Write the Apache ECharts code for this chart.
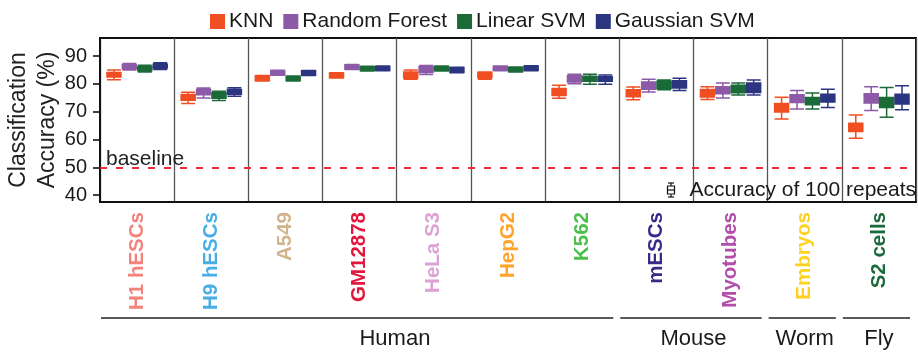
<!DOCTYPE html>
<html><head><meta charset="utf-8">
<script src="https://cdn.jsdelivr.net/npm/echarts@6/dist/echarts.min.js"></script>
<style>html,body{margin:0;padding:0;background:#fff}#c{width:918px;height:355px}</style>
</head><body><div id="c"></div>
<script>
// ---- data ----
const categories = ['H1 hESCs','H9 hESCs','A549','GM12878','HeLa S3','HepG2','K562','mESCs','Myotubes','Embryos','S2 cells'];
const categoryColors = ['#f2827a','#4aaee6','#d2b48c','#e2173d','#dca2d6','#ffa42a','#4dbf4d','#372b8a','#b04ea9','#ffd21f','#1b6a3a'];
const seriesNames = ['KNN','Random Forest','Linear SVM','Gaussian SVM'];
const seriesColors = ['#f04e23','#8c5aa6','#1b6b38','#2b3580'];
// [min, Q1, median, Q3, max]
const knn = [
  [81.5,82.5,83.2,84.1,85.0],[72.9,74.1,75.1,76.2,77.0],[81.0,81.1,82.0,82.9,83.0],
  [82.1,82.2,83.0,83.9,84.0],[81.7,82.1,83.3,84.3,85.0],[81.7,82.2,83.2,84.1,84.3],
  [74.8,75.8,77.1,78.3,79.5],[74.3,75.4,76.7,77.9,78.9],[74.4,75.3,76.7,78.0,79.0],
  [67.4,69.9,71.2,72.9,75.2],[60.4,62.9,64.4,65.8,68.8]
];
const randomForest = [
  [85.0,85.4,86.1,86.9,87.3],[74.9,76.1,77.0,78.0,78.5],[83.1,83.2,84.0,84.8,84.9],
  [85.2,85.3,86.1,86.9,87.0],[83.4,84.1,85.2,86.2,86.6],[84.7,84.8,85.5,86.3,86.4],
  [80.0,80.7,81.8,82.9,83.5],[77.1,78.1,79.4,80.7,81.7],[74.9,76.4,77.6,79.0,80.3],
  [71.0,73.3,74.6,76.1,77.6],[70.4,73.1,74.8,76.4,79.0]
];
const linearSVM = [
  [84.3,84.7,85.4,86.2,86.7],[74.0,74.8,75.8,76.8,77.3],[81.0,81.1,81.9,82.7,82.8],
  [84.6,84.7,85.4,86.2,86.3],[84.6,84.7,85.5,86.3,86.4],[84.3,84.4,85.2,86.0,86.1],
  [79.9,80.9,81.7,82.7,83.5],[77.9,78.3,79.6,80.9,81.4],[76.0,76.8,78.1,79.5,80.3],
  [71.0,72.5,73.7,75.1,76.7],[68.0,71.5,73.3,75.1,78.7]
];
const gaussianSVM = [
  [85.2,85.7,86.4,87.1,87.6],[75.5,76.3,77.1,78.0,78.6],[83.0,83.1,83.9,84.7,84.8],
  [84.7,84.8,85.5,86.3,86.4],[84.0,84.1,85.0,85.9,86.0],[84.7,84.8,85.6,86.4,86.5],
  [79.9,80.9,81.7,82.6,83.2],[77.6,78.5,79.9,81.1,82.0],[76.0,76.9,78.6,80.3,81.4],
  [71.5,73.5,74.9,76.3,78.1],[70.7,72.8,74.6,76.3,79.3]
];
const groups = ['Human','Mouse','Worm','Fly'];
const groupSpans = [[0,6],[7,8],[9,9],[10,10]];
const groupLabelFrac = [0.568,0.5,0.5,0.5];
const yTicks = [40,50,60,70,80,90];
const baseline = 50;

const seriesData = [knn, randomForest, linearSVM, gaussianSVM];
const chart = echarts.init(document.getElementById('c'), null, {renderer:'canvas'});
const FONT = 'Liberation Sans, Arial, Helvetica, sans-serif';

const series = seriesNames.map((n,i)=>({
  name:n, type:'boxplot', data:seriesData[i], boxWidth:[14,14],
  itemStyle:{color:seriesColors[i], borderColor:seriesColors[i], borderWidth:1.5},
  emphasis:{disabled:true}, silent:true,
  markLine: i===0 ? {
    silent:true, symbol:'none', label:{show:false},
    lineStyle:{color:'#e62d35', type:[7,9], width:1.8, opacity:1},
    data:[{yAxis:baseline}]
  } : undefined
}));

chart.setOption({
  animation:false,
  textStyle:{fontFamily:FONT},
  legend:{
    data:seriesNames, left:205, top:6, icon:'rect', itemWidth:13, itemHeight:13, itemGap:10,
    textStyle:{fontSize:21, color:'#1a1a1a', fontFamily:FONT}, selectedMode:false
  },
  grid:{left:100, right:2, top:38, bottom:153, show:true, borderColor:'#111', borderWidth:2,
        containLabel:false, outerBoundsMode:'none'},
  xAxis:{
    type:'category', data:categories, boundaryGap:true,
    axisLine:{lineStyle:{color:'#111', width:2}},
    axisTick:{show:false},
    splitLine:{show:true, interval:0, lineStyle:{color:'#555', width:1.3}},
    axisLabel:{
      interval:0, rotate:90, margin:10, fontSize:20.5, fontWeight:'bold', fontFamily:FONT,
      color:(v,idx)=>categoryColors[categories.indexOf(v)]
    }
  },
  yAxis:{
    type:'value', min:37.5, max:96.5,
    name:'Classification\nAccuracy (%)', nameLocation:'middle', nameGap:38, nameMoveOverlap:false,
    nameTextStyle:{fontSize:23, lineHeight:29, color:'#222', fontFamily:FONT},
    axisLine:{show:true, lineStyle:{color:'#111', width:2}},
    axisTick:{show:true, length:7, customValues:yTicks, lineStyle:{color:'#111', width:1.6}},
    axisLabel:{customValues:yTicks, fontSize:20, color:'#1a1a1a', margin:13, fontFamily:FONT},
    splitLine:{show:false}
  },
  series:series
});

// annotations positioned from axis scale
const c0 = chart.convertToPixel({xAxisIndex:0}, 0);
const c1 = chart.convertToPixel({xAxisIndex:0}, 1);
const bw = c1 - c0;
const els = [];
groupSpans.forEach((s,gi)=>{
  const l = chart.convertToPixel({xAxisIndex:0}, s[0]) - bw/2;
  const r = chart.convertToPixel({xAxisIndex:0}, s[1]) + bw/2;
  els.push({type:'line', shape:{x1:l+1, y1:318, x2:r-6, y2:318}, style:{stroke:'#222', lineWidth:1.3}, silent:true});
  els.push({type:'text', x:l + (r-l)*groupLabelFrac[gi], y:339, style:{text:groups[gi], fill:'#1a1a1a', font:'22px '+FONT, align:'center', verticalAlign:'middle'}, silent:true});
});
els.push({type:'text', x:106, y:159, style:{text:'baseline', fill:'#222', font:'21px '+FONT, align:'left', verticalAlign:'middle'}, silent:true});
els.push({type:'text', x:916, y:190, style:{text:'Accuracy of 100 repeats', fill:'#1a1a1a', font:'21px '+FONT, align:'right', verticalAlign:'middle'}, silent:true});
// small boxplot glyph
const ix = 671, st = {stroke:'#111', lineWidth:1.2, fill:null};
els.push({type:'line', shape:{x1:ix-3, y1:183, x2:ix+3, y2:183}, style:st, silent:true});
els.push({type:'line', shape:{x1:ix, y1:183, x2:ix, y2:186}, style:st, silent:true});
els.push({type:'rect', shape:{x:ix-3.5, y:186, width:7, height:8}, style:{stroke:'#111', lineWidth:1.2, fill:'#fff'}, silent:true});
els.push({type:'line', shape:{x1:ix-3.5, y1:190, x2:ix+3.5, y2:190}, style:st, silent:true});
els.push({type:'line', shape:{x1:ix, y1:194, x2:ix, y2:197}, style:st, silent:true});
els.push({type:'line', shape:{x1:ix-3, y1:197, x2:ix+3, y2:197}, style:st, silent:true});
chart.setOption({graphic:{elements:els}});
</script>
</body></html>
